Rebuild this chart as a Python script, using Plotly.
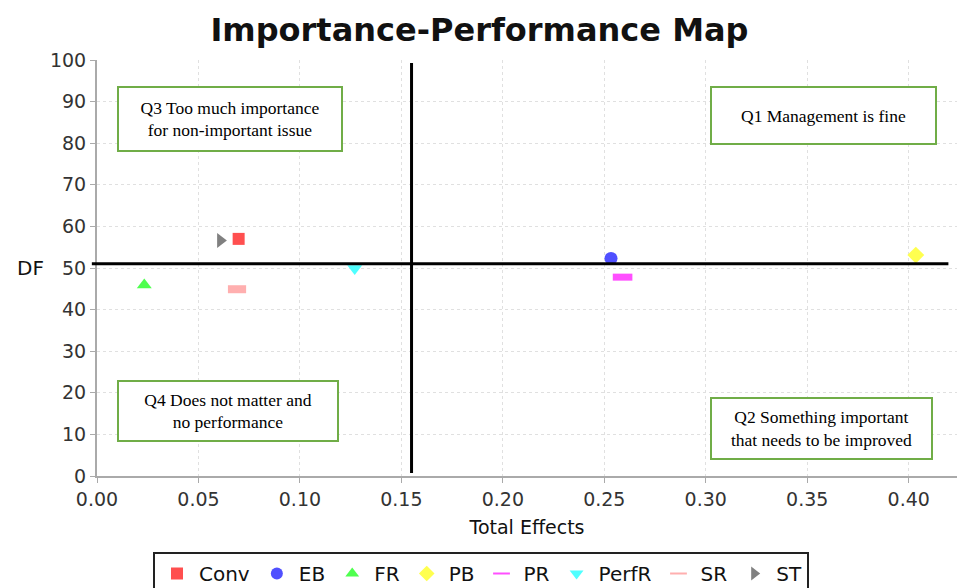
import plotly.graph_objects as go

# ---------------- data ----------------
constructs = ["Conv", "EB", "FR", "PB", "PR", "PerfR", "SR", "ST"]
total_effects = [0.0698, 0.2533, 0.0233, 0.4035, 0.2590, 0.1270, 0.0690, 0.0608]
performance = [57.0, 52.3, 45.9, 53.1, 47.8, 49.9, 44.9, 56.6]

x_ticks = [0.00, 0.05, 0.10, 0.15, 0.20, 0.25, 0.30, 0.35, 0.40]
x_tick_labels = ["0.00", "0.05", "0.10", "0.15", "0.20", "0.25", "0.30", "0.35", "0.40"]
y_ticks = [0, 10, 20, 30, 40, 50, 60, 70, 80, 90, 100]
y_tick_labels = [str(v) for v in y_ticks]

importance_cut = 0.155   # vertical quadrant line (mean importance)
performance_cut = 51.0   # horizontal quadrant line (mean performance)

quadrant_texts = [
    "Q3 Too much importance<br>for non-important issue",
    "Q1 Management is fine",
    "Q4 Does not matter and<br>no performance",
    "Q2 Something important<br>that needs to be improved",
]
quadrant_x = [0.0655, 0.3579, 0.0645, 0.3570]
quadrant_y = [85.8, 86.6, 15.6, 11.4]

# ---------------- styles ----------------
colors = {
    "Conv": "#FF4F4F", "EB": "#5050FF", "FR": "#4FFF4F", "PB": "#FFFF4F",
    "PR": "#FF4FFF", "PerfR": "#4FFFFF", "SR": "#FFAFAF", "ST": "#808080",
}
symbols = {
    "Conv": "square", "EB": "circle", "FR": "triangle-up", "PB": "diamond",
    "PR": "line-ew", "PerfR": "triangle-down", "SR": "line-ew", "ST": "triangle-right",
}
sizes = {"Conv": 12, "EB": 13, "FR": 13, "PB": 13, "PR": 14, "PerfR": 13, "SR": 13, "ST": 13}

fig = go.Figure()
for name, xv, yv in zip(constructs, total_effects, performance):
    sym = symbols[name]
    if sym == "line-ew":
        marker = dict(symbol=sym, size=sizes[name],
                      line=dict(color=colors[name], width=7 if name == "PR" else 8))
    else:
        marker = dict(symbol=sym, size=sizes[name], color=colors[name], line=dict(width=0))
    fig.add_trace(go.Scatter(x=[xv], y=[yv], mode="markers", name=name, marker=marker))

# quadrant lines
fig.add_shape(type="line", xref="x", yref="paper", x0=importance_cut, x1=importance_cut,
              y0=0.007, y1=0.993, line=dict(color="black", width=3))
fig.add_shape(type="line", xref="paper", yref="y", x0=-0.006, x1=0.99,
              y0=performance_cut, y1=performance_cut, line=dict(color="black", width=3))

# quadrant boxes
box_w = [222, 223, 218, 219]
box_h = [62, 55, 58, 59]
for txt, qx, qy, bw, bh in zip(quadrant_texts, quadrant_x, quadrant_y, box_w, box_h):
    fig.add_annotation(x=qx, y=qy, xref="x", yref="y", text=txt, showarrow=False,
                       xanchor="center", yanchor="middle", width=bw, height=bh,
                       font=dict(family="Liberation Serif", size=17.5, color="black"),
                       bordercolor="#70AD47", borderwidth=2, borderpad=0, bgcolor="white")

# horizontal y-axis title
fig.add_annotation(x=-0.0776, y=50, xref="paper", yref="y", text="DF", showarrow=False,
                   xanchor="center", yanchor="middle",
                   font=dict(family="DejaVu Sans", size=20, color="#111"))

fig.update_layout(
    width=957, height=588,
    margin=dict(l=97, r=0, t=60, b=112, autoexpand=False),
    paper_bgcolor="white", plot_bgcolor="white",
    title=dict(text="<b>Importance-Performance Map</b>", x=0.501, xref="container",
               xanchor="center", y=0.95, yref="container", yanchor="middle",
               font=dict(family="DejaVu Sans", size=32, color="#111")),
    showlegend=True,
    legend=dict(orientation="h", x=0.5026, xref="container", xanchor="center",
                y=1 - 552 / 588, yref="container", yanchor="top",
                bordercolor="#222", borderwidth=2, bgcolor="white",
                font=dict(family="DejaVu Sans", size=20, color="#111"),
                itemsizing="constant", itemwidth=34),
    font=dict(family="DejaVu Sans"),
)
fig.update_xaxes(range=[0, 0.4238], tickmode="array", tickvals=x_ticks, ticktext=x_tick_labels,
                 showgrid=True, gridcolor="#e0e0e0", griddash="dot", gridwidth=1,
                 showline=True, linecolor="#aaaaaa", linewidth=2, mirror=False,
                 ticks="outside", ticklen=5, tickcolor="#aaaaaa",
                 tickfont=dict(family="DejaVu Sans", size=19, color="#333"),
                 zeroline=False, automargin=False,
                 title=dict(text="Total Effects", standoff=12,
                            font=dict(family="DejaVu Sans", size=19, color="#111")))
fig.update_yaxes(range=[0, 100], tickmode="array", tickvals=y_ticks, ticktext=y_tick_labels,
                 showgrid=True, gridcolor="#e0e0e0", griddash="dot", gridwidth=1,
                 showline=True, linecolor="#aaaaaa", linewidth=2, mirror=True,
                 ticks="outside", ticklen=5, tickcolor="#aaaaaa",
                 tickfont=dict(family="DejaVu Sans", size=19, color="#333"),
                 zeroline=False, automargin=False)

fig.write_html("out.html", config={"displayModeBar": False},
               post_script="document.body.style.margin='0';document.body.style.overflow='hidden';")
